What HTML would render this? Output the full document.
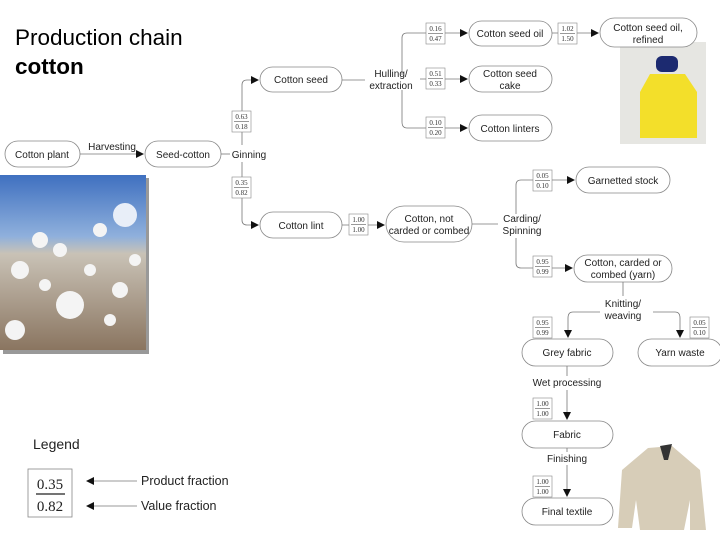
<!DOCTYPE html>
<html><head><style>
body{margin:0;background:#fff;width:720px;height:540px;overflow:hidden;position:relative;font-family:"Liberation Sans",sans-serif}
svg{position:absolute;left:0;top:0}
text{font-family:"Liberation Sans",sans-serif;font-size:10px;fill:#222}
.f text{font-family:"Liberation Serif",serif;font-size:7px;fill:#333}
</style></head><body>
<svg width="720" height="540" viewBox="0 0 720 540">
<defs>
<marker id="a" markerWidth="8" markerHeight="8" refX="7" refY="4" orient="auto" markerUnits="userSpaceOnUse"><path d="M0,0 L8,4 L0,8z" fill="#111"/></marker>
<linearGradient id="sky" x1="0" y1="0" x2="0" y2="1"><stop offset="0" stop-color="#3f70c0"/><stop offset="0.35" stop-color="#8fb0dc"/><stop offset="0.45" stop-color="#c9c2b6"/><stop offset="1" stop-color="#8a7560"/></linearGradient>
</defs>
<text x="15" y="45" style="font-size:22.5px;fill:#000">Production chain</text>
<text x="15" y="74" style="font-size:22.5px;font-weight:bold;fill:#000">cotton</text>

<rect x="3" y="178" width="146" height="176" fill="#999"/>
<rect x="0" y="175" width="146" height="175" fill="url(#sky)"/>
<g fill="#f4f4f4">
<circle cx="70" cy="305" r="14"/><circle cx="40" cy="240" r="8"/><circle cx="100" cy="230" r="7"/><circle cx="20" cy="270" r="9"/><circle cx="120" cy="290" r="8"/><circle cx="60" cy="250" r="7"/><circle cx="90" cy="270" r="6"/><circle cx="135" cy="260" r="6"/><circle cx="15" cy="330" r="10"/><circle cx="110" cy="320" r="6"/><circle cx="45" cy="285" r="6"/><circle cx="125" cy="215" r="12" fill="#e8eef8"/>
</g>

<rect x="620" y="42" width="86" height="102" fill="#e6e6e2"/>
<path d="M650,74 L685,74 L697,92 L697,138 L640,138 L640,92z" fill="#f3df2a"/>
<rect x="656" y="56" width="22" height="16" rx="6" fill="#1c2a70"/>

<path d="M648,448 L672,446 L700,470 L706,530 L690,530 L690,500 L684,530 L640,530 L636,500 L632,528 L618,528 L622,470z" fill="#d7cdb8"/>
<path d="M660,446 L672,444 L668,460 L664,460z" fill="#333"/>

<g fill="#fff" stroke="#888" stroke-width="0.8">
<rect x="5" y="141" width="75" height="26" rx="13"/>
<rect x="145" y="141" width="76" height="26" rx="13"/>
<rect x="260" y="67" width="82" height="25" rx="12.5"/>
<rect x="260" y="212" width="82" height="26" rx="13"/>
<rect x="386" y="206" width="86" height="36" rx="18"/>
<rect x="469" y="21" width="83" height="25" rx="12.5"/>
<rect x="469" y="66" width="83" height="26" rx="13"/>
<rect x="469" y="115" width="83" height="26" rx="13"/>
<rect x="600" y="18" width="97" height="29" rx="14.5"/>
<rect x="576" y="167" width="94" height="26" rx="13"/>
<rect x="574" y="255" width="98" height="27" rx="13.5"/>
<rect x="522" y="339" width="91" height="27" rx="13.5"/>
<rect x="638" y="339" width="84" height="27" rx="13.5"/>
<rect x="522" y="421" width="91" height="27" rx="13.5"/>
<rect x="522" y="498" width="91" height="27" rx="13.5"/>
</g>

<g stroke="#777" stroke-width="0.8" fill="none">
<path d="M80,154 H143" marker-end="url(#a)"/>
<path d="M221,154 H230"/>
<path d="M242,145 V85 Q242,80 247,80 H258" marker-end="url(#a)"/>
<path d="M242,162 V220 Q242,225 247,225 H258" marker-end="url(#a)"/>
<path d="M342,80 H365"/>
<path d="M402,75 V38 Q402,33 407,33 H467" marker-end="url(#a)"/>
<path d="M420,79 H467" marker-end="url(#a)"/>
<path d="M402,90 V122 Q402,128 407,128 H467" marker-end="url(#a)"/>
<path d="M552,33 H598" marker-end="url(#a)"/>
<path d="M342,225 H384" marker-end="url(#a)"/>
<path d="M472,224 H498"/>
<path d="M516,214 V185 Q516,180 521,180 H574" marker-end="url(#a)"/>
<path d="M516,238 V263 Q516,268 521,268 H572" marker-end="url(#a)"/>
<path d="M623,282 V296"/>
<path d="M600,312 H573 Q568,312 568,318 V337" marker-end="url(#a)"/>
<path d="M653,312 H675 Q680,312 680,318 V337" marker-end="url(#a)"/>
<path d="M567,366 V376"/>
<path d="M567,390 V419" marker-end="url(#a)"/>
<path d="M567,448 V452"/>
<path d="M567,465 V496" marker-end="url(#a)"/>
<path d="M137,481 H87" marker-end="url(#a)"/>
<path d="M137,506 H87" marker-end="url(#a)"/>
</g>

<g>
<text x="42" y="158" text-anchor="middle">Cotton plant</text>
<text x="112" y="150" text-anchor="middle">Harvesting</text>
<text x="183" y="158" text-anchor="middle">Seed-cotton</text>
<text x="249" y="158" text-anchor="middle">Ginning</text>
<text x="301" y="83" text-anchor="middle">Cotton seed</text>
<text x="301" y="229" text-anchor="middle">Cotton lint</text>
<text x="391" y="77" text-anchor="middle">Hulling/</text>
<text x="391" y="89" text-anchor="middle">extraction</text>
<text x="429" y="222" text-anchor="middle">Cotton, not</text>
<text x="429" y="234" text-anchor="middle">carded or combed</text>
<text x="510" y="37" text-anchor="middle">Cotton seed oil</text>
<text x="510" y="77" text-anchor="middle">Cotton seed</text>
<text x="510" y="89" text-anchor="middle">cake</text>
<text x="510" y="132" text-anchor="middle">Cotton linters</text>
<text x="648" y="31" text-anchor="middle">Cotton seed oil,</text>
<text x="648" y="43" text-anchor="middle">refined</text>
<text x="522" y="222" text-anchor="middle">Carding/</text>
<text x="522" y="234" text-anchor="middle">Spinning</text>
<text x="623" y="184" text-anchor="middle">Garnetted stock</text>
<text x="623" y="266" text-anchor="middle">Cotton, carded or</text>
<text x="623" y="278" text-anchor="middle">combed (yarn)</text>
<text x="623" y="307" text-anchor="middle">Knitting/</text>
<text x="623" y="319" text-anchor="middle">weaving</text>
<text x="567" y="356" text-anchor="middle">Grey fabric</text>
<text x="680" y="356" text-anchor="middle">Yarn waste</text>
<text x="567" y="386" text-anchor="middle">Wet processing</text>
<text x="567" y="438" text-anchor="middle">Fabric</text>
<text x="567" y="462" text-anchor="middle">Finishing</text>
<text x="567" y="515" text-anchor="middle">Final textile</text>
</g>

<g fill="#fff" stroke="#888" stroke-width="0.6">
<rect x="232" y="111" width="19" height="21"/>
<rect x="232" y="177" width="19" height="21"/>
<rect x="426" y="23" width="19" height="21"/>
<rect x="426" y="68" width="19" height="21"/>
<rect x="426" y="117" width="19" height="21"/>
<rect x="558" y="23" width="19" height="21"/>
<rect x="349" y="214" width="19" height="21"/>
<rect x="533" y="170" width="19" height="21"/>
<rect x="533" y="256" width="19" height="21"/>
<rect x="533" y="317" width="19" height="21"/>
<rect x="690" y="317" width="19" height="21"/>
<rect x="533" y="398" width="19" height="21"/>
<rect x="533" y="476" width="19" height="21"/>
</g>
<g class="f" text-anchor="middle">
<text x="241.5" y="119">0.63</text><text x="241.5" y="129">0.18</text>
<text x="241.5" y="185">0.35</text><text x="241.5" y="195">0.82</text>
<text x="435.5" y="31">0.16</text><text x="435.5" y="41">0.47</text>
<text x="435.5" y="76">0.51</text><text x="435.5" y="86">0.33</text>
<text x="435.5" y="125">0.10</text><text x="435.5" y="135">0.20</text>
<text x="567.5" y="31">1.02</text><text x="567.5" y="41">1.50</text>
<text x="358.5" y="222">1.00</text><text x="358.5" y="232">1.00</text>
<text x="542.5" y="178">0.05</text><text x="542.5" y="188">0.10</text>
<text x="542.5" y="264">0.95</text><text x="542.5" y="274">0.99</text>
<text x="542.5" y="325">0.95</text><text x="542.5" y="335">0.99</text>
<text x="699.5" y="325">0.05</text><text x="699.5" y="335">0.10</text>
<text x="542.5" y="406">1.00</text><text x="542.5" y="416">1.00</text>
<text x="542.5" y="484">1.00</text><text x="542.5" y="494">1.00</text>
</g>
<g stroke="#555" stroke-width="0.6">
<line x1="234" y1="121.5" x2="249" y2="121.5"/><line x1="234" y1="187.5" x2="249" y2="187.5"/>
<line x1="428" y1="33.5" x2="443" y2="33.5"/><line x1="428" y1="78.5" x2="443" y2="78.5"/>
<line x1="428" y1="127.5" x2="443" y2="127.5"/><line x1="560" y1="33.5" x2="575" y2="33.5"/>
<line x1="351" y1="224.5" x2="366" y2="224.5"/><line x1="535" y1="180.5" x2="550" y2="180.5"/>
<line x1="535" y1="266.5" x2="550" y2="266.5"/><line x1="535" y1="327.5" x2="550" y2="327.5"/>
<line x1="692" y1="327.5" x2="707" y2="327.5"/><line x1="535" y1="408.5" x2="550" y2="408.5"/>
<line x1="535" y1="486.5" x2="550" y2="486.5"/>
</g>

<text x="33" y="449" style="font-size:14px;fill:#222">Legend</text>
<rect x="28" y="469" width="44" height="48" fill="#fff" stroke="#888" stroke-width="0.8"/>
<text x="50" y="489" text-anchor="middle" style="font-family:'Liberation Serif',serif;font-size:15px;fill:#222">0.35</text>
<line x1="36" y1="494" x2="65" y2="494" stroke="#222" stroke-width="1.2"/>
<text x="50" y="511" text-anchor="middle" style="font-family:'Liberation Serif',serif;font-size:15px;fill:#222">0.82</text>
<text x="141" y="485" style="font-size:12.5px">Product fraction</text>
<text x="141" y="510" style="font-size:12.5px">Value fraction</text>
</svg>
</body></html>
